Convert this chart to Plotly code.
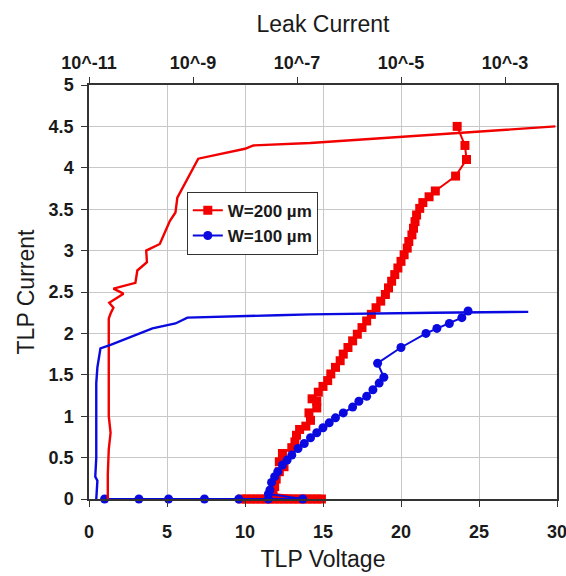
import plotly.graph_objects as go

# ---- TLP I-V data (bottom axis: TLP Voltage [V], left axis: TLP Current [A]) ----
w200_voltage = [9.8, 10.1, 10.4, 10.7, 11.0, 11.3, 11.6, 11.9, 12.2, 12.5, 12.8, 13.1, 13.4, 13.7,
                14.0, 14.3, 14.6, 14.9,
                11.8, 11.9, 12.0, 12.2, 12.5, 12.2, 12.4, 13.0, 13.2, 13.3, 13.5, 13.9, 14.2, 14.1,
                14.6, 14.6, 14.3, 14.7, 15.0, 15.3, 15.5, 15.8, 16.1, 16.3, 16.6, 16.9, 17.2, 17.5,
                17.8, 18.1, 18.4, 18.7, 19.0, 19.2, 19.4, 19.6, 19.8, 20.0, 20.2, 20.4, 20.5, 20.7,
                20.8, 20.9, 21.0, 21.2, 21.4, 21.8, 22.2, 23.5, 24.2, 24.1, 23.6]
w200_current = [0.0, 0.0, 0.0, 0.0, 0.0, 0.0, 0.0, 0.0, 0.0, 0.0, 0.0, 0.0, 0.0, 0.0,
                0.0, 0.0, 0.0, 0.0,
                0.06, 0.15, 0.24, 0.33, 0.39, 0.45, 0.55, 0.62, 0.69, 0.77, 0.84, 0.88, 0.95, 1.04,
                1.10, 1.18, 1.21, 1.29, 1.36, 1.43, 1.51, 1.59, 1.67, 1.75, 1.83, 1.91, 1.99, 2.07,
                2.15, 2.23, 2.31, 2.39, 2.47, 2.55, 2.63, 2.71, 2.79, 2.87, 2.95, 3.03, 3.11, 3.19,
                3.27, 3.35, 3.43, 3.51, 3.58, 3.65, 3.72, 3.90, 4.10, 4.27, 4.50]

w100_voltage = [1.0, 3.2, 5.1, 7.4, 9.6, 11.5, 13.7,
                11.5, 11.6, 11.7, 11.9, 12.1, 12.4, 12.7, 13.0, 13.4, 13.8, 14.2, 14.6, 15.0, 15.4,
                15.8, 16.3, 16.9, 17.3, 17.8, 18.2, 18.6, 18.9, 18.5, 20.0, 21.6, 22.3, 23.1, 23.9, 24.3]
w100_current = [0.0, 0.0, 0.0, 0.0, 0.0, 0.0, 0.0,
                0.06, 0.11, 0.20, 0.27, 0.33, 0.41, 0.47, 0.53, 0.61, 0.67, 0.74, 0.80, 0.86, 0.92,
                0.98, 1.04, 1.11, 1.18, 1.24, 1.32, 1.40, 1.47, 1.64, 1.83, 2.00, 2.06, 2.12, 2.19, 2.27]

# ---- Leak current data (top log axis: Leak Current [A], left axis: TLP Current [A]) ----
w200_leak = [2.3e-11, 2.3e-11, 2.4e-11, 2.6e-11, 2.4e-11, 2.4e-11, 2.4e-11, 2.4e-11,
             2.6e-11, 2.95e-11, 2.45e-11, 4.6e-11, 2.95e-11, 7.8e-11, 8.5e-11, 1.3e-10,
             1.26e-10, 2.3e-10, 3.6e-10, 4.6e-10, 5.0e-10, 1.26e-9, 1.0e-8, 1.45e-8,
             1.8e-7, 9.3e-3]
w200_leak_tlp = [0.0, 0.3, 0.6, 0.8, 1.0, 1.5, 2.0, 2.18,
                 2.24, 2.31, 2.37, 2.48, 2.54, 2.61, 2.76, 2.86,
                 3.00, 3.08, 3.36, 3.46, 3.64, 4.11, 4.23, 4.27,
                 4.30, 4.50]

w100_leak = [1.38e-11, 1.45e-11, 1.32e-11, 1.38e-11, 1.38e-11, 1.38e-11, 1.45e-11, 1.66e-11,
             2.6e-11, 9.8e-11, 1.66e-10, 4.6e-10, 7.8e-10, 4.2e-8, 1.8e-7, 4.2e-5, 2.8e-3]
w100_leak_tlp = [0.0, 0.22, 0.27, 0.5, 1.0, 1.40, 1.59, 1.82,
                 1.86, 2.00, 2.06, 2.12, 2.19, 2.22, 2.23, 2.25, 2.26]

top_tickvals = [1e-11, 1e-9, 1e-7, 1e-5, 1e-3]
top_ticktext = ["10^-11", "10^-9", "10^-7", "10^-5", "10^-3"]

RED = "#f20000"
BLUE = "#0a0ae0"
FONT = "Liberation Sans, Arial, sans-serif"

fig = go.Figure()

fig.add_trace(go.Scatter(x=w200_leak, y=w200_leak_tlp, xaxis="x2", yaxis="y",
                         mode="lines", line=dict(color=RED, width=2.4),
                         showlegend=False, hoverinfo="skip"))
fig.add_trace(go.Scatter(x=w100_leak, y=w100_leak_tlp, xaxis="x2", yaxis="y",
                         mode="lines", line=dict(color=BLUE, width=2.4),
                         showlegend=False, hoverinfo="skip"))
fig.add_trace(go.Scatter(x=w200_voltage, y=w200_current, mode="lines+markers",
                         name="W=200 µm", line=dict(color=RED, width=2), cliponaxis=False,
                         marker=dict(symbol="square", size=9, color=RED)))
fig.add_trace(go.Scatter(x=w100_voltage, y=w100_current, mode="lines+markers",
                         name="W=100 µm", line=dict(color=BLUE, width=2), cliponaxis=False,
                         marker=dict(symbol="circle", size=9, color=BLUE)))

tickfont = dict(family=FONT, size=18, color="#1a1a1a", weight="bold")
titlefont = dict(family=FONT, size=23, color="#1a1a1a")

fig.update_layout(
    width=566, height=576,
    margin=dict(l=89, r=9, t=85, b=77, autoexpand=False),
    paper_bgcolor="white", plot_bgcolor="white",
    font=dict(family=FONT),
    xaxis=dict(range=[0, 30], dtick=5, tick0=0, showgrid=True, gridcolor="#c8c8c8", gridwidth=1,
               showline=True, linecolor="#333", linewidth=1.5, mirror=True,
               ticks="outside", ticklen=6, tickcolor="#333", tickfont=tickfont,
               ticklabelstandoff=10, ticklabeloverflow="allow", zeroline=False, automargin=False,
               title=dict(text="TLP Voltage", font=titlefont, standoff=10)),
    xaxis2=dict(type="log", range=[-11, -2], overlaying="x", side="top", anchor="y",
                tickvals=top_tickvals, ticktext=top_ticktext, showgrid=False,
                showline=True, linecolor="#333", linewidth=1.5,
                ticks="outside", ticklen=6, tickcolor="#333", tickfont=tickfont,
                ticklabelstandoff=1, ticklabeloverflow="allow", zeroline=False, automargin=False,
                title=dict(text="Leak Current", font=titlefont, standoff=14)),
    yaxis=dict(range=[0, 5], dtick=0.5, tick0=0, showgrid=True, gridcolor="#c8c8c8", gridwidth=1,
               showline=True, linecolor="#333", linewidth=1.5, mirror=True,
               ticks="outside", ticklen=6, tickcolor="#333", tickfont=tickfont,
               ticklabelstandoff=4, ticklabeloverflow="allow", zeroline=False, automargin=False,
               title=dict(text="TLP Current", font=titlefont, standoff=8)),
    legend=dict(x=0.209, y=0.742, xanchor="left", yanchor="top",
                bgcolor="white", bordercolor="#333", borderwidth=1,
                font=dict(family=FONT, size=17, color="#1a1a1a", weight="bold"),
                itemwidth=30, tracegroupgap=0),
    showlegend=True,
)

fig.write_html("out.html")
